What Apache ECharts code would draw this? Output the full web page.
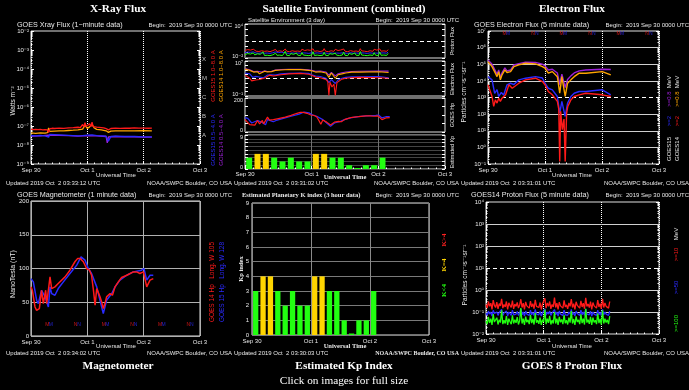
<!DOCTYPE html>
<html><head><meta charset="utf-8">
<script src="https://cdn.jsdelivr.net/npm/echarts@6/dist/echarts.min.js"></script>
<style>html,body{margin:0;padding:0;background:#000;}#c{width:689px;height:390px;}</style>
</head><body><div id="c"></div>
<script>
// ---------------- DATA ----------------
const dayLabels = ['Sep 30', 'Oct 1', 'Oct 2', 'Oct 3'];

// X-ray flux (hours since Sep 30 00 UTC, W/m^2)
const xrayLong15 = [[0,6.8e-8],[1,6.5e-8],[2,6.7e-8],[3,6.4e-8],[4,6.6e-8],[5,6.3e-8],[6,6.5e-8],[7,6.2e-8],[7.5,4.5e-8],[8,7.2e-8],[9,7.6e-8],[10,7.4e-8],[12,7.8e-8],[14,7.5e-8],[16,7.9e-8],[18,8.2e-8],[20,8.6e-8],[21,8.1e-8],[22,1.2e-7],[22.5,8.8e-8],[23,1.5e-7],[23.5,9.5e-8],[24,1.1e-7],[25,1.3e-7],[25.5,9e-8],[26,1.6e-7],[26.5,9.2e-8],[27,1.05e-7],[28,8.8e-8],[30,8.3e-8],[31,8e-8],[32,7.2e-8],[33,6.3e-8],[34,7.4e-8],[36,7.7e-8],[38,7.5e-8],[40,7.8e-8],[42,7.6e-8],[44,7.9e-8],[46,7.7e-8],[48,7.8e-8],[50,7.6e-8],[51.5,7.7e-8]];
const xrayLong14 = [[0,4.3e-8],[2,4.1e-8],[4,4.4e-8],[6,4.2e-8],[7,4.5e-8],[7.5,8e-8],[8,5.2e-8],[10,5.4e-8],[12,5.6e-8],[14,5.5e-8],[16,5.8e-8],[18,6e-8],[20,6.3e-8],[22,6.8e-8],[23,1.1e-7],[24,7.5e-8],[25,9e-8],[26,1.2e-7],[27,7.8e-8],[28,6.6e-8],[30,6.2e-8],[32,5.6e-8],[33,4.6e-8],[34,5.4e-8],[36,5.6e-8],[40,5.5e-8],[44,5.6e-8],[48,5.7e-8],[51.5,5.6e-8]];
const xrayShort15 = [[0,3.1e-8],[2,3e-8],[4,3.2e-8],[6,3e-8],[7.5,2.6e-8],[8,3.6e-8],[10,3.5e-8],[12,3.4e-8],[14,3.3e-8],[16,3.2e-8],[18,3.1e-8],[20,3.0e-8],[22,3.1e-8],[24,3.3e-8],[26,3.4e-8],[28,3.1e-8],[30,3.0e-8],[32,2.9e-8],[33,1.6e-8],[34,2.8e-8],[36,2.9e-8],[40,2.8e-8],[44,2.8e-8],[48,2.7e-8],[51.5,2.7e-8]];
const xrayShort14 = [[0,2.9e-8],[4,3e-8],[7.5,3.3e-8],[8,3.3e-8],[12,3.2e-8],[16,3.1e-8],[20,2.9e-8],[24,3.1e-8],[28,3e-8],[32,2.8e-8],[32.5,1.3e-8],[33,2.7e-8],[36,2.8e-8],[40,2.7e-8],[44,2.7e-8],[48,2.6e-8],[51.5,2.6e-8]];
const flareClassLevels = [3.16e-4, 3.16e-5, 3.16e-6, 3.16e-7, 3.16e-8];
const flareClassLetters = ['X', 'M', 'C', 'B', 'A'];

// Electron flux (particles cm-2 s-1 sr-1)
const elec08_14 = [[0,1.45e5],[1.7,7.2e4],[3.1,2.9e4],[3.8,1.8e4],[4.5,3.6e4],[5.2,1.15e4],[5.9,2.3e4],[7.1,4.6e4],[8,3.2e4],[9.5,3.6e4],[10.9,7.2e4],[13,9.1e4],[15.8,1.15e5],[20,1.05e5],[22.9,7.2e4],[24,5.8e4],[25.4,2.9e4],[27.1,3.6e4],[29.2,1.8e4],[30.2,1.8e3],[31.1,1.8e4],[32.5,1.15e3],[33.5,7.2e3],[34.9,1.15e4],[36.3,1.8e4],[38.4,2.9e4],[41.2,2.9e4],[48.1,3.6e4],[51.7,2.3e4]];
const elec08_15 = [[0,1.8e5],[1.7,1.0e5],[3.1,4e4],[3.8,2.5e4],[4.5,4.5e4],[5.2,1.6e4],[5.9,3e4],[7.1,6e4],[8,4e4],[9.5,4.5e4],[10.9,9e4],[13,1.1e5],[15.8,1.35e5],[20,1.3e5],[22.9,1e5],[24,8e4],[25.4,4.5e4],[27.1,5e4],[29.2,3e4],[30.2,6e3],[31.1,2.5e4],[32.5,4e3],[33.5,1.2e4],[34.9,2e4],[36.3,3e4],[38.4,4e4],[41.2,4.5e4],[48.1,5e4],[51.7,4.8e4]];
const elec2_14 = [[0,5.8e3],[1.7,1.15e3],[2.4,290],[3.1,720],[3.8,460],[4.5,910],[5.2,580],[5.9,910],[7.4,1.45e3],[8.8,5.8e3],[10.2,3.6e3],[13,7.2e3],[15.8,1.15e4],[20,1.45e4],[22.9,9.1e3],[24,5.8e3],[25.4,2.3e3],[27.1,1.45e3],[29.2,580],[29.8,200],[30.2,0.14],[30.6,150],[31.3,11.5],[32,50],[32.5,0.14],[33.1,115],[33.6,290],[34.9,720],[36.3,1.15e3],[38.4,1.45e3],[41.2,1.8e3],[48.1,1.45e3],[51.7,1.15e3]];
const elec2_15 = [[0,1.8e4],[1.7,1.15e4],[2.8,1.8e3],[3.8,3e3],[4.5,1.15e3],[5.6,2e3],[6.6,1.4e3],[8,5.8e3],[9.5,7.2e3],[10.9,6e3],[13,1.15e4],[15.8,1.45e4],[20,1.8e4],[22.9,1.5e4],[24,7.2e3],[25.4,3.6e3],[27.1,2.9e3],[29.2,1.15e3],[30.2,115],[31.1,580],[32.5,72],[33.5,460],[34.9,1.15e3],[36.3,1.8e3],[38.4,2.3e3],[41.2,2.3e3],[48.1,2.9e3],[51.7,1.45e3]];
// local midnight / noon markers (GOES-14 red, GOES-15 blue)
const mnLetters = ['M', 'N', 'M', 'N', 'M', 'N'];
const mnHours14 = [7, 19, 31, 43, 55, 67];
const mnHours15 = [8.5, 20.5, 32.5, 44.5, 56.5, 68.5];

// Magnetometer Hp (nT)
const magHp14 = [[0,72.8],[0.57,67.8],[1.7,43],[2.4,38],[3.55,40.6],[4.5,67.8],[5.25,48],[6.25,67.8],[6.7,48],[7.4,50.5],[8.1,87.6],[8.8,70.3],[10.2,72.8],[11.6,77.7],[14.5,87.6],[16.6,97.5],[18.7,110],[19.9,115],[20.9,115],[22.3,110],[23.7,100],[24.9,97.5],[25.8,90],[26.6,67.8],[27.3,45.5],[28,70.3],[29.4,58],[30.1,50.5],[30.8,40.6],[31.5,48],[32.2,58],[33.7,62.9],[34.7,60.4],[35.8,72.8],[37.2,80.2],[38.6,86.6],[40.8,90],[43.6,95],[45,95],[46.4,92.6],[47.9,95],[49.3,72.8],[50.7,82.7],[52.1,85]];
const magHp15 = [[0,85],[1,80.2],[2.4,53],[3.1,48],[4.5,67.8],[6,58],[7.4,43],[8.1,72.8],[8.8,62.9],[10.2,60.4],[11.6,70.3],[13.8,80.2],[16.6,92.6],[19.5,105],[21.3,117.3],[23,112.4],[24.4,100],[25.8,92.6],[28,72.8],[29.4,53],[30.8,33.2],[32.2,53],[34.4,62.9],[35.8,72.8],[37.9,82.7],[40.8,90],[43.6,95],[47.1,97.5],[48.1,100],[49.3,82.7],[50.7,90],[52.1,90]];

// Estimated Kp (3-hour bins, centre hour)
const kpHours = [1.5, 4.5, 7.5, 10.5, 13.5, 16.5, 19.5, 22.5, 25.5, 28.5, 31.5, 34.5, 37.5, 40.5, 43.5, 46.5, 49.5];
const kpValues = [3, 4, 4, 3, 2, 3, 2, 2, 4, 4, 3, 3, 1, 0, 1, 1, 3];

// Proton flux (5-minute data shown at 30-minute sampling from Sep 30 00 UTC)
const protonStepHours = 0.5;
const proton10 = [0.22,0.15,0.3,0.18,0.25,0.13,0.35,0.2,0.16,0.28,0.14,0.24,0.19,0.4,0.15,0.22,0.17,0.3,0.13,0.26,
0.2,0.16,0.33,0.14,0.23,0.18,0.27,0.15,0.21,0.38,0.16,0.25,0.13,0.29,0.19,0.22,0.15,0.31,0.17,0.24,
0.14,0.36,0.18,0.21,0.16,0.27,0.13,0.23,0.2,0.42,0.15,0.26,0.18,0.3,0.14,0.22,0.17,0.45,0.16,0.25,
0.13,0.28,0.19,0.23,0.15,0.34,0.17,0.21,0.14,0.26,0.18,0.39,0.16,0.24,0.13,0.29,0.2,0.22,0.15,0.32,
0.17,0.25,0.14,0.44,0.18,0.23,0.16,0.3,0.13,0.27,0.19,0.21,0.15,0.35,0.17,0.24,0.14,0.4,0.16,0.26,
0.18,0.22,0.15,0.3];
const proton50 = [0.09,0.07,0.11,0.08,0.1,0.065,0.12,0.085,0.075,0.1,0.07,0.095,0.08,0.13,0.07,0.09,0.075,0.11,0.065,0.1,
0.085,0.07,0.12,0.075,0.09,0.08,0.105,0.07,0.09,0.14,0.075,0.1,0.065,0.11,0.08,0.09,0.07,0.12,0.075,0.095,
0.07,0.13,0.08,0.09,0.075,0.105,0.065,0.09,0.085,0.14,0.07,0.1,0.08,0.11,0.07,0.09,0.075,0.13,0.075,0.1,
0.065,0.11,0.08,0.095,0.07,0.12,0.075,0.09,0.07,0.1,0.08,0.13,0.075,0.095,0.065,0.11,0.085,0.09,0.07,0.12,
0.075,0.1,0.07,0.14,0.08,0.09,0.075,0.11,0.065,0.1,0.08,0.09,0.07,0.12,0.075,0.095,0.07,0.13,0.075,0.1,
0.08,0.09,0.07,0.11];
const proton100 = [0.04,0.028,0.06,0.032,0.05,0.026,0.08,0.035,0.03,0.055,0.027,0.045,0.033,0.12,0.028,0.042,0.03,0.065,0.026,0.05,
0.036,0.028,0.07,0.03,0.045,0.032,0.058,0.027,0.04,0.15,0.03,0.05,0.026,0.062,0.034,0.044,0.028,0.075,0.031,0.048,
0.027,0.09,0.033,0.042,0.029,0.056,0.026,0.045,0.035,0.13,0.028,0.05,0.032,0.066,0.027,0.043,0.03,0.1,0.03,0.05,
0.026,0.06,0.034,0.046,0.028,0.072,0.031,0.042,0.027,0.055,0.033,0.11,0.03,0.048,0.026,0.064,0.035,0.044,0.028,0.078,
0.031,0.05,0.027,0.14,0.033,0.045,0.029,0.06,0.026,0.055,0.034,0.042,0.028,0.085,0.031,0.048,0.027,0.12,0.03,0.05,
0.033,0.044,0.028,0.065];

// ---------------- STYLE / BUILD ----------------
const FONT = '"Liberation Sans", Arial, "DejaVu Sans", sans-serif';
const SERIF = '"Liberation Serif", "Times New Roman", serif';
const RED = '#ff1a1a', ORANGE = '#ffa500', BLUE = '#2a2aff', PURPLE = '#9b1fd6', GREEN = '#22ff11', YELLOW = '#ffd500';
const TXT = '#e8e8e8';
const SUP = {'-':'\u207B','0':'\u2070','1':'\u00B9','2':'\u00B2','3':'\u00B3','4':'\u2074','5':'\u2075','6':'\u2076','7':'\u2077','8':'\u2078','9':'\u2079'};
function pow10Label(v) { const e = Math.round(Math.log10(v)); return '10' + String(e).split('').map(c => SUP[c]).join(''); }
const protonSeries = arr => arr.map((v, i) => [i * protonStepHours, v]);
const endRich = fs => ({
  t: {color: TXT, fontSize: fs, fontFamily: FONT, padding: [4, 0, 0, 0]},
  b: {color: TXT, fontSize: fs, fontFamily: FONT, padding: [0, 0, 4, 0]}
});

const grids = [], xAxes = [], yAxes = [], series = [], graphics = [];
function addGrid(l, t, w, h) {
  grids.push({left: l, top: t, width: w, height: h, show: true, borderColor: '#e0e0e0', borderWidth: 1, backgroundColor: 'rgba(0,0,0,0)'});
  return grids.length - 1;
}
function addX(gi, o) {
  o = o || {};
  xAxes.push({gridIndex: gi, type: 'value', min: 0, max: 72, interval: 24, position: 'bottom',
    axisLine: {show: false},
    axisTick: {show: o.ticks !== false, inside: true, length: 3, lineStyle: {color: '#fff', width: 1}},
    minorTick: {show: o.ticks !== false, splitNumber: 8, length: 1.5, lineStyle: {color: '#fff', width: 1}},
    axisLabel: {show: o.labels !== false, color: TXT, fontSize: 6, fontFamily: FONT, margin: o.margin || 3,
      formatter: v => dayLabels[Math.round(v / 24)] || '', showMinLabel: true, showMaxLabel: true, hideOverlap: false},
    splitLine: o.split ? {show: true, lineStyle: o.split} : {show: false}});
  return xAxes.length - 1;
}
function addYLog(gi, min, max, o) {
  o = o || {};
  const lo = Math.round(Math.log10(min)), hi = Math.round(Math.log10(max));
  const fs = o.fontSize || 6;
  yAxes.push({gridIndex: gi, type: 'log', logBase: 10, min, max, splitNumber: hi - lo, position: o.right ? 'right' : 'left',
    axisLine: {show: false},
    axisTick: {show: true, inside: true, length: 3, lineStyle: {color: '#fff', width: 1}},
    minorTick: {show: !!o.minor, splitNumber: 9, length: 1.5, lineStyle: {color: '#fff', width: 1}},
    axisLabel: {show: !o.right, color: TXT, fontSize: fs, fontFamily: FONT, margin: 2, showMinLabel: true, showMaxLabel: true,
      rich: endRich(fs),
      formatter: v => {
        const e = Math.round(Math.log10(v));
        if (o.ends) { if (e === hi) return '{t|' + pow10Label(v) + '}'; if (e === lo) return '{b|' + pow10Label(v) + '}'; return ''; }
        return pow10Label(v);
      }},
    splitLine: {show: false}});
  return yAxes.length - 1;
}
function addYVal(gi, min, max, interval, o) {
  o = o || {};
  const fs = o.fontSize || 6;
  yAxes.push({gridIndex: gi, type: 'value', min, max, interval, position: o.right ? 'right' : 'left',
    axisLine: {show: false},
    axisTick: {show: o.ticks !== false, inside: true, length: 3, lineStyle: {color: '#fff', width: 1}},
    axisLabel: {show: !o.right, color: TXT, fontSize: fs, fontFamily: o.family || FONT, fontWeight: o.weight || 'normal', margin: o.margin || 2,
      showMinLabel: true, showMaxLabel: true, rich: endRich(fs),
      formatter: v => {
        if (!o.ends) return String(v);
        if (v === max) return '{t|' + v + '}';
        if (v === min) return '{b|' + v + '}';
        return '';
      }},
    splitLine: o.split ? {show: true, lineStyle: o.split} : {show: false}});
  return yAxes.length - 1;
}
function addLine(xi, yi, data, color, width, extra) {
  series.push(Object.assign({type: 'line', xAxisIndex: xi, yAxisIndex: yi, data, symbol: 'none', showSymbol: false,
    lineStyle: {color, width: width || 1.2}, itemStyle: {color}, animation: false, silent: true, z: 3}, extra || {}));
  return series.length - 1;
}
function hLines(list) {
  return {silent: true, symbol: ['none', 'none'], label: {show: false}, animation: false, z: 1,
    data: list.map(l => ({yAxis: l[0], lineStyle: {color: l[1], width: 1, type: l[2] || 'solid'}}))};
}
function markers(xi, yi, hours, yVal, letters, color) {
  series.push({type: 'scatter', xAxisIndex: xi, yAxisIndex: yi, symbolSize: 0, animation: false, silent: true, clip: false, z: 5,
    data: hours.map((h, i) => [h, yVal, letters[i]]),
    label: {show: true, position: 'inside', formatter: p => p.data[2], color, fontSize: 5, fontFamily: FONT}});
}
function txt(text, x, y, o) {
  o = o || {};
  graphics.push({type: 'text', x, y, rotation: o.rot || 0, silent: true, z: 100,
    style: {text, fill: o.color || TXT, fontSize: o.size || 6, fontFamily: o.family || FONT, fontWeight: o.weight || 'normal',
      align: o.align || 'left', verticalAlign: 'middle', textAlign: o.align || 'left', textVerticalAlign: 'middle'}});
}
const ROT = Math.PI / 2;
const bigTitle = (t, x, y) => txt(t, x, y, {size: 11.3, family: SERIF, weight: 'bold', align: 'center', color: '#fff'});

// ---- Panel A: X-ray flux ----
const gA = addGrid(31, 31, 169, 133);
const xA = addX(gA, {split: {color: '#fff', type: 'dotted', width: 1}});
const yA = addYLog(gA, 1e-9, 1e-2, {minor: true});
addYLog(gA, 1e-9, 1e-2, {minor: true, right: true});
const HG = '#cfcfcf';
addLine(xA, yA, xrayShort14, PURPLE, 1.3, {markLine: hLines([[1e-3,HG],[1e-4,HG],[1e-5,HG],[1e-6,HG],[1e-7,HG],[1e-8,HG]])});
addLine(xA, yA, xrayShort15, BLUE, 1.3);
addLine(xA, yA, xrayLong14, ORANGE, 1.3);
addLine(xA, yA, xrayLong15, RED, 1.3);
series.push({type: 'scatter', xAxisIndex: xA, yAxisIndex: yA, symbolSize: 0, animation: false, silent: true, clip: false,
  data: flareClassLevels.map((v, i) => [72, v, flareClassLetters[i]]),
  label: {show: true, position: 'right', distance: 2, formatter: p => p.data[2], color: TXT, fontSize: 6, fontFamily: FONT}});
bigTitle('X-Ray Flux', 118, 9);
txt('GOES Xray Flux (1\u2212minute data)', 17, 25, {size: 7.2});
txt('Begin:  2019 Sep 30 0000 UTC', 232, 25, {align: 'right'});
txt('Watts m\u207B\u00B2', 13, 101, {rot: ROT, align: 'center', size: 6.5});
txt('Universal Time', 116, 175, {align: 'center'});
txt('Updated 2019 Oct  2 03:33:12 UTC', 6, 183.5);
txt('NOAA/SWPC Boulder, CO USA', 232, 183.5, {align: 'right'});
txt('GOES15 1.0\u22128.0 A', 213, 76, {rot: ROT, align: 'center', color: RED});
txt('GOES14 1.0\u22128.0 A', 221, 76, {rot: ROT, align: 'center', color: ORANGE});
txt('GOES15 0.5\u22124.0 A', 213, 140, {rot: ROT, align: 'center', color: BLUE});
txt('GOES14 0.5\u22124.0 A', 221, 140, {rot: ROT, align: 'center', color: PURPLE});

// ---- Panel B: Satellite environment ----
const vGrey = {color: '#707070', type: 'solid', width: 1};
const gB1 = addGrid(245, 24, 200, 34);
const xB1 = addX(gB1, {labels: false, ticks: false, split: vGrey});
const yB1 = addYLog(gB1, 0.01, 1e4, {ends: true, fontSize: 5.5});
addYLog(gB1, 0.01, 1e4, {right: true});
addLine(xB1, yB1, protonSeries(proton10), RED, 1, {markLine: hLines([[10, '#fff', [4, 3]]])});
addLine(xB1, yB1, protonSeries(proton50), BLUE, 1);
addLine(xB1, yB1, protonSeries(proton100), GREEN, 1);

const gB2 = addGrid(245, 61, 200, 35);
const xB2 = addX(gB2, {labels: false, ticks: false, split: vGrey});
const yB2 = addYLog(gB2, 0.1, 1e7, {ends: true, fontSize: 5.5});
addYLog(gB2, 0.1, 1e7, {right: true});
addLine(xB2, yB2, elec08_15, PURPLE, 1.1, {markLine: hLines([[1e3, '#fff', [4, 3]]])});
addLine(xB2, yB2, elec08_14, ORANGE, 1.1);
addLine(xB2, yB2, elec2_15, BLUE, 1.1);
addLine(xB2, yB2, elec2_14, RED, 1.1);

const gB3 = addGrid(245, 98, 200, 34);
const xB3 = addX(gB3, {labels: false, ticks: false, split: vGrey});
const yB3 = addYVal(gB3, 0, 200, 50, {ends: true, fontSize: 5.5});
addYVal(gB3, 0, 200, 50, {right: true});
addLine(xB3, yB3, magHp15, BLUE, 1.2);
addLine(xB3, yB3, magHp14, RED, 1.2);

const gB4 = addGrid(245, 135, 200, 34);
const xB4 = addX(gB4, {split: vGrey, margin: 2});
const yB4 = addYVal(gB4, 0, 9, 1, {ends: true, fontSize: 5.5, split: {color: '#444', width: 1}});
addYVal(gB4, 0, 9, 1, {right: true});
const kpColor = p => p.value[1] < 4 ? GREEN : (p.value[1] === 4 ? YELLOW : RED);
series.push({type: 'bar', xAxisIndex: xB4, yAxisIndex: yB4, data: kpHours.map((h, i) => [h, kpValues[i]]), barWidth: 6, barMinHeight: 1,
  itemStyle: {color: kpColor}, animation: false, silent: true});
bigTitle('Satellite Environment (combined)', 344, 9);
txt('Satellite Environment (3 day)', 248, 20.5, {size: 6});
txt('Begin:  2019 Sep 30 0000 UTC', 459, 20.5, {align: 'right'});
txt('Proton Flux', 452, 41, {rot: ROT, align: 'center', size: 5.5});
txt('Electron Flux', 452, 79, {rot: ROT, align: 'center', size: 5.5});
txt('GOES Hp', 452, 115, {rot: ROT, align: 'center', size: 5.5});
txt('Estimated Kp', 452, 152, {rot: ROT, align: 'center', size: 5.5});
txt('Universal Time', 345, 177.5, {align: 'center', family: SERIF, weight: 'bold', size: 6.5});
txt('Updated 2019 Oct  2 03:31:02 UTC', 234, 183);
txt('NOAA/SWPC Boulder, CO USA', 459, 183, {align: 'right'});

// ---- Panel C: Electron flux ----
const gC = addGrid(488, 31, 171, 133);
const xC = addX(gC, {split: {color: '#fff', type: 'dotted', width: 1}});
const yC = addYLog(gC, 0.1, 1e7, {minor: true});
addYLog(gC, 0.1, 1e7, {minor: true, right: true});
addLine(xC, yC, elec08_15, PURPLE, 1.4, {markLine: hLines([[1e6, HG],[1e5, HG],[1e4, HG],[1e3, '#fff', [4, 3]],[1e2, HG],[1e1, HG],[1e0, HG]])});
addLine(xC, yC, elec08_14, ORANGE, 1.4);
addLine(xC, yC, elec2_15, BLUE, 1.4);
addLine(xC, yC, elec2_14, RED, 1.4);
markers(xC, yC, mnHours14, 6.6e6, mnLetters, RED);
markers(xC, yC, mnHours15, 6.6e6, mnLetters, BLUE);
bigTitle('Electron Flux', 572, 9);
txt('GOES Electron Flux (5 minute data)', 474, 25, {size: 7.2});
txt('Begin:  2019 Sep 30 0000 UTC', 689, 25, {align: 'right'});
txt('Particles cm\u207B\u00B2s\u207B\u00B9sr\u207B\u00B9', 464, 92, {rot: ROT, align: 'center', size: 6.5});
txt('Universal Time', 572, 175, {align: 'center'});
txt('Updated 2019 Oct  2 03:31:01 UTC', 461, 183.5);
txt('NOAA/SWPC Boulder, CO USA', 689, 183.5, {align: 'right'});
txt('GOES15', 669, 149, {rot: ROT, align: 'center'});
txt('>=2', 669, 121, {rot: ROT, align: 'center', color: BLUE});
txt('>=0.8', 669, 99, {rot: ROT, align: 'center', color: PURPLE});
txt('MeV', 669, 82, {rot: ROT, align: 'center'});
txt('GOES14', 677, 149, {rot: ROT, align: 'center'});
txt('>=2', 677, 121, {rot: ROT, align: 'center', color: RED});
txt('>=0.8', 677, 99, {rot: ROT, align: 'center', color: ORANGE});
txt('MeV', 677, 82, {rot: ROT, align: 'center'});

// ---- Panel D: Magnetometer ----
const gD = addGrid(31, 201, 169, 135);
const xD = addX(gD, {split: {color: '#b0b0b0', type: 'solid', width: 1}, ticks: false});
const yD = addYVal(gD, 0, 200, 50, {split: {color: '#b0b0b0', width: 1}, ticks: false});
addLine(xD, yD, magHp15, BLUE, 1.5);
addLine(xD, yD, magHp14, RED, 1.5);
markers(xD, yD, mnHours14, 17, mnLetters, RED);
markers(xD, yD, mnHours15, 17, mnLetters, BLUE);
txt('GOES Magnetometer (1 minute data)', 17, 195.5, {size: 7.2});
txt('Begin:  2019 Sep 30 0000 UTC', 232, 195.5, {align: 'right'});
txt('NanoTesla (nT)', 13, 274, {rot: ROT, align: 'center', size: 7});
txt('GOES 14 Hp   Long. W 105', 212, 282, {rot: ROT, align: 'center', color: RED, size: 6.5});
txt('GOES 15 Hp   Long. W 128', 222, 282, {rot: ROT, align: 'center', color: BLUE, size: 6.5});
txt('Universal Time', 116, 346, {align: 'center'});
txt('Updated 2019 Oct  2 03:34:02 UTC', 6, 353.5);
txt('NOAA/SWPC Boulder, CO USA', 232, 353.5, {align: 'right'});
bigTitle('Magnetometer', 118, 366);

// ---- Panel E: Kp index ----
const gE = addGrid(252, 203, 177, 132);
const xE = addX(gE, {split: {color: '#8a8a8a', type: 'solid', width: 1}, ticks: false});
const yE = addYVal(gE, 0, 9, 1, {split: {color: '#7a7a7a', width: 1}, ticks: false, margin: 3});
series.push({type: 'bar', xAxisIndex: xE, yAxisIndex: yE, data: kpHours.map((h, i) => [h, kpValues[i]]), barWidth: 5.3, barMinHeight: 1.5,
  itemStyle: {color: kpColor}, animation: false, silent: true});
txt('Estimated Planetary K index (3 hour data)', 242, 195.5, {family: SERIF, weight: 'bold', size: 6.5});
txt('Begin:  2019 Sep 30 0000 UTC', 459, 195.5, {align: 'right'});
txt('Kp index', 241, 269, {rot: ROT, align: 'center', family: SERIF, weight: 'bold', size: 6.5});
txt('K>4', 444, 240, {rot: ROT, align: 'center', family: SERIF, weight: 'bold', size: 7, color: '#ff2020'});
txt('K=4', 444, 265, {rot: ROT, align: 'center', family: SERIF, weight: 'bold', size: 7, color: YELLOW});
txt('K<4', 444, 290.5, {rot: ROT, align: 'center', family: SERIF, weight: 'bold', size: 7, color: GREEN});
txt('Universal Time', 345, 346, {align: 'center', family: SERIF, weight: 'bold', size: 6.5});
txt('Updated 2019 Oct  2 03:30:03 UTC', 234, 353.5);
txt('NOAA/SWPC Boulder, CO USA', 459, 353.5, {align: 'right', family: SERIF, weight: 'bold'});
bigTitle('Estimated Kp Index', 344, 366);
txt('Click on images for full size', 344, 381, {size: 11.3, family: SERIF, align: 'center', color: '#fff'});

// ---- Panel F: Proton flux ----
const gF = addGrid(486, 202, 173, 132);
const xF = addX(gF, {split: {color: '#fff', type: 'dotted', width: 1}});
const yF = addYLog(gF, 0.01, 1e4, {minor: true});
addYLog(gF, 0.01, 1e4, {minor: true, right: true});
addLine(xF, yF, protonSeries(proton10), RED, 1.3, {markLine: hLines([[1e3, HG],[1e2, HG],[1e1, '#fff', [4, 3]],[1e0, HG],[1e-1, HG]])});
addLine(xF, yF, protonSeries(proton50), BLUE, 1.3);
addLine(xF, yF, protonSeries(proton100), GREEN, 1.3);
txt('GOES14 Proton Flux (5 minute data)', 471, 195.5, {size: 7.2});
txt('Begin:  2019 Sep 30 0000 UTC', 689, 195.5, {align: 'right'});
txt('Particles cm\u207B\u00B2s\u207B\u00B9sr\u207B\u00B9', 465, 275, {rot: ROT, align: 'center', size: 6.5});
txt('MeV', 676, 234, {rot: ROT, align: 'center'});
txt('>=10', 676, 254.5, {rot: ROT, align: 'center', color: RED});
txt('>=50', 676, 287.5, {rot: ROT, align: 'center', color: BLUE});
txt('>=100', 676, 323.5, {rot: ROT, align: 'center', color: GREEN});
txt('Universal Time', 572, 346, {align: 'center'});
txt('Updated 2019 Oct  2 03:31:01 UTC', 461, 353.5);
txt('NOAA/SWPC Boulder, CO USA', 689, 353.5, {align: 'right'});
bigTitle('GOES 8 Proton Flux', 572, 366);

const chart = echarts.init(document.getElementById('c'), null, {renderer: 'canvas'});
chart.setOption({backgroundColor: '#000', animation: false, grid: grids, xAxis: xAxes, yAxis: yAxes, series, graphic: {elements: graphics}});
</script></body></html>
